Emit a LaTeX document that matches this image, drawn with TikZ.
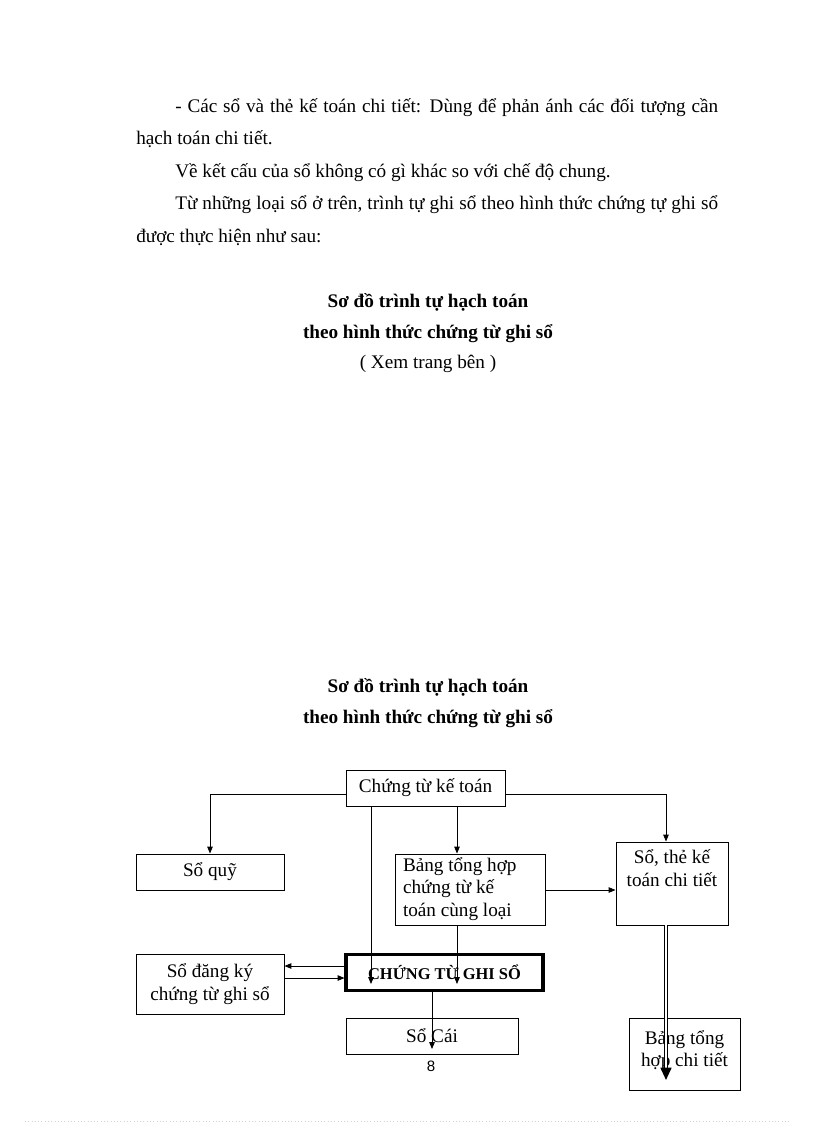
\documentclass[tikz,border=0pt]{standalone}
\usepackage{fontspec}
\setmainfont{Liberation Serif}
\newfontfamily\pagenumfont{Liberation Sans}
\usetikzlibrary{arrows.meta}
\newcommand{\pxu}{0.7295pt}
\newcommand{\bodysize}{\fontsize{14}{16.5}\selectfont}

\begin{document}
\begin{tikzpicture}[x=0.7295pt, y=-0.7295pt,
    txt/.style={inner sep=0pt, font=\bodysize},
    ttl/.style={inner sep=0pt, font=\bodysize\bfseries},
    box/.style 2 args={draw, line width=0.7pt, inner sep=0pt, font=\bodysize,
        align=center, minimum width=#1*\pxu, minimum height=#2*\pxu},
    lbl/.style={anchor=north, yshift=-6pt, inner sep=0pt, font=\bodysize, align=center},
    arr/.style={-{Triangle[length=5pt,width=4pt]}, line width=0.6pt},
    dbl/.style={-{Triangle[length=9pt,width=8pt]}, double, line width=1.3pt, double distance=1pt}]
  \useasboundingbox (0,0) rectangle (816,1123);

  % text above
  \node[txt, anchor=base west] (p1) at (175,112)
    {\makebox[396pt][s]{- Các sổ và thẻ kế toán chi tiết: Dùng để phản ánh các đối tượng cần}};
  \node[txt, anchor=base west] (p2) at (136,144) {hạch toán chi tiết.};
  \node[txt, anchor=base west] (p3) at (175,177) {Về kết cấu của sổ không có gì khác so với chế độ chung.};
  \node[txt, anchor=base west] (p4) at (175,209)
    {\makebox[396pt][s]{Từ những loại sổ ở trên, trình tự ghi sổ theo hình thức chứng tự ghi sổ}};
  \node[txt, anchor=base west] (p5) at (136,242) {được thực hiện như sau:};

  % titles
  \node[ttl, anchor=base] (t1) at (428,307) {Sơ đồ trình tự hạch toán};
  \node[ttl, anchor=base] (t2) at (428,338) {theo hình thức chứng từ ghi sổ};
  \node[txt, anchor=base] (t3) at (428,368) {( Xem trang bên )};
  \node[ttl, anchor=base] (t4) at (428,692) {Sơ đồ trình tự hạch toán};
  \node[ttl, anchor=base] (t5) at (428,723) {theo hình thức chứng từ ghi sổ};

  % boxes
  \node[box={159}{36}] (ctkt) at (425.5,788) {Chứng từ kế toán};
  \node[box={148}{36}] (soquy) at (210,872) {Sổ quỹ};
  \node[box={150}{71}, align=flush left, text width=134*\pxu] (bangth) at (470,889.5)
    {Bảng tổng hợp\\chứng từ kế\\toán cùng loại\rule[-4pt]{0pt}{0pt}};
  \node[box={112}{83}, label={[lbl]north:{Sổ, thẻ kế\\toán chi tiết}}] (sothe) at (672,883.5) {};
  \node[box={148}{60}] (sodk) at (210,984) {Sổ đăng ký\\chứng từ ghi sổ};
  \node[box={197}{36}, line width=2.2pt, font=\fontsize{12}{14}\selectfont\bfseries] (ctgs) at (444.5,972)
    {CHỨNG TỪ GHI SỔ};
  \node[box={172}{36}] (socai) at (432,1036) {Sổ Cái};
  \node[box={111}{72}, label={[lbl, yshift=-3pt]north:{Bảng tổng\\hợp chi tiết}}] (bangct) at (684.5,1054) {};

  % free ends
  \coordinate (e1) at (371,984);
  \coordinate (e2) at (457,984);
  \coordinate (e3) at (432,1049);
  \coordinate (e4) at (666,1080);

  % arrows
  \draw[arr] (ctkt.west |- 0,794) -| (soquy.north);
  \draw[arr] (ctkt.east |- 0,794) -| (sothe.north -| e4);
  \draw[arr] (ctkt.south -| e1) -- (e1);
  \draw[arr] (ctkt.south -| e2) -- (bangth.north -| e2);
  \draw[arr] (bangth.east |- 0,890) -- (sothe.west |- 0,890);
  \draw[arr] (bangth.south -| e2) -- (e2);
  \draw[arr] (ctgs.west |- 0,966) -- (sodk.east |- 0,966);
  \draw[arr] (sodk.east |- 0,978) -- (ctgs.west |- 0,978);
  \draw[arr] (ctgs.south -| e3) -- (e3);
  \draw[dbl] (sothe.south -| e4) -- (e4);

  % page number and bottom rule
  \node[inner sep=0pt, font=\pagenumfont\fontsize{11}{13}\selectfont] (pgnum) at (431,1066) {8};
  \draw[gray!35, dotted, line width=0.4pt] (25,1121) -- (790,1121);
\end{tikzpicture}
\end{document}
